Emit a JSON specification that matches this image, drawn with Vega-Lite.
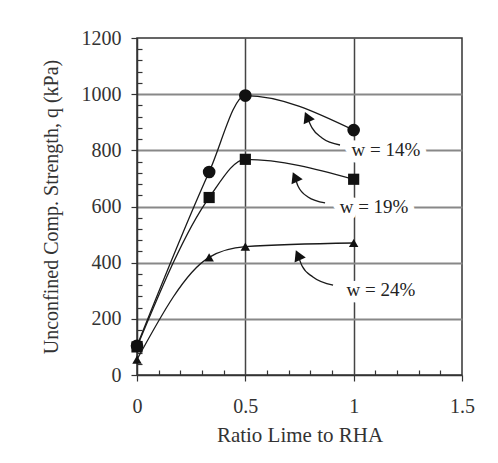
{
  "$schema": "https://vega.github.io/schema/vega-lite/v6.json",
  "width": 325,
  "height": 337,
  "autosize": {"type": "none"},
  "padding": {"left": 137, "top": 38, "right": 36, "bottom": 88},
  "background": "white",
  "config": {
    "view": {"stroke": "#333", "strokeWidth": 1.5, "fill": "white"},
    "font": "Liberation Serif"
  },
  "datasets": {
    "series": [
      {"w": "w = 14%", "ratio": 0, "q": 104},
      {"w": "w = 14%", "ratio": 0.333, "q": 723},
      {"w": "w = 14%", "ratio": 0.5, "q": 995},
      {"w": "w = 14%", "ratio": 1, "q": 872},
      {"w": "w = 19%", "ratio": 0, "q": 100},
      {"w": "w = 19%", "ratio": 0.333, "q": 632},
      {"w": "w = 19%", "ratio": 0.5, "q": 768},
      {"w": "w = 19%", "ratio": 1, "q": 697},
      {"w": "w = 24%", "ratio": 0, "q": 55},
      {"w": "w = 24%", "ratio": 0.333, "q": 419},
      {"w": "w = 24%", "ratio": 0.5, "q": 457},
      {"w": "w = 24%", "ratio": 1, "q": 470}
    ],
    "arrows": [
      {"w": "w = 14%", "ord": 0, "x": 0.785, "y": 919},
      {"w": "w = 14%", "ord": 1, "x": 0.808, "y": 880},
      {"w": "w = 14%", "ord": 2, "x": 0.854, "y": 844},
      {"w": "w = 14%", "ord": 3, "x": 0.937, "y": 819},
      {"w": "w = 19%", "ord": 0, "x": 0.729, "y": 705},
      {"w": "w = 19%", "ord": 1, "x": 0.743, "y": 673},
      {"w": "w = 19%", "ord": 2, "x": 0.789, "y": 634},
      {"w": "w = 19%", "ord": 3, "x": 0.868, "y": 613},
      {"w": "w = 24%", "ord": 0, "x": 0.743, "y": 427},
      {"w": "w = 24%", "ord": 1, "x": 0.762, "y": 388},
      {"w": "w = 24%", "ord": 2, "x": 0.812, "y": 349},
      {"w": "w = 24%", "ord": 3, "x": 0.905, "y": 320}
    ],
    "labels": [
      {"w": "w = 14%", "x": 1.149, "y": 801},
      {"w": "w = 19%", "x": 1.094, "y": 598},
      {"w": "w = 24%", "x": 1.126, "y": 303}
    ]
  },
  "layer": [
    {
      "data": {"name": "series"},
      "mark": {"type": "line", "color": "#1a1a1a", "strokeWidth": 1.3, "interpolate": "monotone"},
      "encoding": {
        "x": {
          "field": "ratio",
          "type": "quantitative",
          "scale": {"domain": [0, 1.5], "nice": false, "zero": false},
          "axis": {
            "title": "Ratio Lime to RHA",
            "values": [0, 0.1, 0.2, 0.3, 0.4, 0.5, 0.6, 0.7, 0.8, 0.9, 1, 1.1, 1.2, 1.3, 1.4, 1.5],
            "tickCount": 100,
            "labelExpr": "abs(datum.value * 2 - round(datum.value * 2)) < 0.000001 ? toString(round(datum.value * 2) / 2) : ''",
            "labelOverlap": false,
            "tickSize": {"condition": {"test": "abs(datum.value * 2 - round(datum.value * 2)) < 0.000001", "value": 6}, "value": -5},
            "tickColor": "#333",
            "tickWidth": 1.2,
            "domainColor": "#333",
            "domainWidth": 1.5,
            "grid": true,
            "gridColor": "#444",
            "gridWidth": 1.5,
            "gridOpacity": {"condition": {"test": "abs(datum.value * 2 - round(datum.value * 2)) < 0.000001 && datum.value > 0.01 && datum.value < 1.49", "value": 1}, "value": 0},
            "labelFontSize": 20,
            "labelColor": "#333",
            "labelPadding": 15,
            "labelFlush": false,
            "titleFontSize": 21,
            "titleFontWeight": "normal",
            "titleColor": "#333",
            "titlePadding": 8
          }
        },
        "y": {
          "field": "q",
          "type": "quantitative",
          "scale": {"domain": [0, 1200], "nice": false, "zero": false},
          "axis": {
            "title": "Unconfined Comp. Strength, q (kPa)",
            "values": [0, 40, 80, 120, 160, 200, 240, 280, 320, 360, 400, 440, 480, 520, 560, 600, 640, 680, 720, 760, 800, 840, 880, 920, 960, 1000, 1040, 1080, 1120, 1160, 1200],
            "tickCount": 100,
            "labelExpr": "datum.value % 200 === 0 ? toString(datum.value) : ''",
            "labelOverlap": false,
            "tickSize": {"condition": {"test": "datum.value % 200 === 0", "value": 6}, "value": -5},
            "tickColor": "#333",
            "tickWidth": 1.2,
            "domainColor": "#333",
            "domainWidth": 1.5,
            "grid": true,
            "gridColor": "#888",
            "gridWidth": 2,
            "gridOpacity": {"condition": {"test": "datum.value % 200 === 0 && datum.value > 0 && datum.value < 1200", "value": 1}, "value": 0},
            "labelFontSize": 20,
            "labelColor": "#333",
            "labelPadding": 10,
            "labelFlush": false,
            "titleFontSize": 20,
            "titleFontWeight": "normal",
            "titleColor": "#333",
            "titlePadding": 20
          }
        },
        "detail": {"field": "w"}
      }
    },
    {
      "data": {"name": "series"},
      "mark": {"type": "point", "filled": true, "color": "#111", "opacity": 1},
      "encoding": {
        "x": {"field": "ratio", "type": "quantitative"},
        "y": {"field": "q", "type": "quantitative"},
        "shape": {"field": "w", "type": "nominal", "scale": {"domain": ["w = 14%", "w = 19%", "w = 24%"], "range": ["circle", "square", "triangle-up"]}, "legend": null},
        "size": {"field": "w", "type": "nominal", "scale": {"domain": ["w = 14%", "w = 19%", "w = 24%"], "range": [160, 90, 180]}, "legend": null}
      }
    },
    {
      "data": {"name": "arrows"},
      "mark": {"type": "line", "color": "#1a1a1a", "strokeWidth": 1.3, "interpolate": "monotone"},
      "encoding": {
        "x": {"field": "x", "type": "quantitative"},
        "y": {"field": "y", "type": "quantitative"},
        "detail": {"field": "w"},
        "order": {"field": "ord"}
      }
    },
    {
      "data": {"name": "arrows"},
      "transform": [{"filter": "datum.ord === 0"}],
      "mark": {"type": "point", "shape": "triangle-up", "filled": true, "color": "#111", "opacity": 1, "size": 150, "angle": -24},
      "encoding": {
        "x": {"field": "x", "type": "quantitative"},
        "y": {"field": "y", "type": "quantitative"}
      }
    },
    {
      "data": {"name": "labels"},
      "mark": {"type": "text", "fontSize": 19, "fill": "white", "stroke": "white", "strokeWidth": 13, "strokeJoin": "round"},
      "encoding": {
        "x": {"field": "x", "type": "quantitative"},
        "y": {"field": "y", "type": "quantitative"},
        "text": {"field": "w"}
      }
    },
    {
      "data": {"name": "labels"},
      "mark": {"type": "text", "fontSize": 19, "color": "#222"},
      "encoding": {
        "x": {"field": "x", "type": "quantitative"},
        "y": {"field": "y", "type": "quantitative"},
        "text": {"field": "w"}
      }
    }
  ]
}
